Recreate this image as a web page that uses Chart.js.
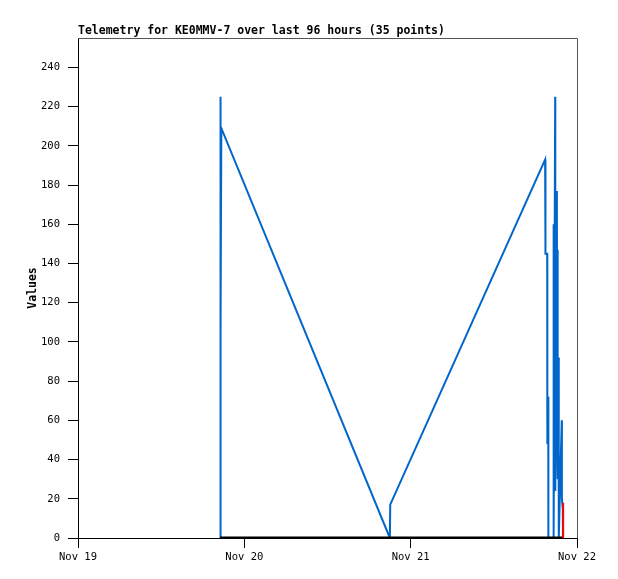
<!DOCTYPE html>
<html>
<head>
<meta charset="utf-8">
<script src="https://cdn.jsdelivr.net/npm/chart.js@4.4.1/dist/chart.umd.min.js"></script>
<style>
  html, body { margin: 0; padding: 0; background: #fff; }
  #wrap { width: 618px; height: 579px; }
</style>
</head>
<body>
<div id="wrap"><canvas id="telemetryChart" width="618" height="579"></canvas></div>
<script>
// Chart text
const chartTitle = 'Telemetry for KE0MMV-7 over last 96 hours (35 points)';
const yAxisTitle = 'Values';

// X axis: hours since Nov 19 00:00
const dayTicks = [0, 24, 48, 72];
const dayLabels = ['Nov 19', 'Nov 20', 'Nov 21', 'Nov 22'];

// Main (blue) channel
const blueHours = [20.50, 20.52, 20.56, 20.62, 20.68, 45.00, 45.05,
                   67.40, 67.45, 67.70, 67.72, 67.85, 67.87, 68.60, 68.62, 68.64,
                   68.85, 68.87, 69.10, 69.12, 69.20, 69.22, 69.35, 69.37,
                   69.80, 69.82, 69.95, 69.97];
const blueValues = [0, 225, 112, 104, 209, 0, 17,
                    193, 145, 145, 48, 72, 0, 0, 160, 0,
                    225, 24, 177, 64, 147, 30, 92, 0,
                    60, 20, 15, 0];

// Zero (black) channel
const blackHours = [20.50, 45.00, 69.99];
const blackValues = [0, 0, 0];

// Last (red) channel
const redHours = [69.99, 70.00];
const redValues = [0, 18];

function toPoints(xs, ys) {
    return xs.map((x, i) => ({ x: x, y: ys[i] }));
}

// Draw title, y-axis title and the grey frame on the top/right
const decorations = {
    id: 'decorations',
    afterDraw(chart) {
        const ctx = chart.ctx;
        const area = chart.chartArea;
        ctx.save();
        ctx.strokeStyle = '#555';
        ctx.lineWidth = 1;
        ctx.beginPath();
        ctx.moveTo(area.left, area.top + 0.5);
        ctx.lineTo(area.right + 0.5, area.top + 0.5);
        ctx.lineTo(area.right + 0.5, area.bottom);
        ctx.stroke();

        ctx.fillStyle = '#000';
        ctx.font = 'bold 11.5px "DejaVu Sans Mono"';
        ctx.textBaseline = 'alphabetic';
        ctx.textAlign = 'left';
        ctx.fillText(chartTitle, area.left, area.top - 4);

        ctx.translate(36, (area.top + area.bottom) / 2);
        ctx.rotate(-Math.PI / 2);
        ctx.textAlign = 'center';
        ctx.fillText(yAxisTitle, 0, 0);
        ctx.restore();
    }
};

const ctx = document.getElementById('telemetryChart').getContext('2d');
const chart = new Chart(ctx, {
    type: 'line',
    data: {
        datasets: [
            {
                data: toPoints(redHours, redValues),
                borderColor: '#ff0000',
                borderWidth: 2,
                pointRadius: 0,
                tension: 0
            },
            {
                data: toPoints(blackHours, blackValues),
                borderColor: '#000000',
                borderWidth: 3,
                pointRadius: 0,
                tension: 0
            },
            {
                data: toPoints(blueHours, blueValues),
                borderColor: '#0066cc',
                borderWidth: 2,
                pointRadius: 0,
                tension: 0
            }
        ]
    },
    options: {
        responsive: false,
        animation: false,
        layout: { padding: { top: 38, right: 41, left: 0, bottom: 0 } },
        plugins: {
            legend: { display: false },
            tooltip: { enabled: false },
            title: { display: false }
        },
        scales: {
            x: {
                type: 'linear',
                min: 0,
                max: 72,
                afterBuildTicks: function(scale) {
                    scale.ticks = dayTicks.map(v => ({ value: v }));
                },
                afterFit: function(scale) { scale.height = 41; },
                ticks: {
                    autoSkip: false,
                    maxRotation: 0,
                    padding: 3,
                    color: '#000',
                    font: { family: 'DejaVu Sans Mono', size: 10.5 },
                    callback: function(value) {
                        const i = dayTicks.indexOf(value);
                        return i >= 0 ? dayLabels[i] : '';
                    }
                },
                grid: {
                    drawOnChartArea: false,
                    drawTicks: true,
                    tickLength: 10,
                    color: '#000'
                },
                border: { display: true, color: '#000', width: 1 }
            },
            y: {
                type: 'linear',
                min: 0,
                max: 255,
                afterBuildTicks: function(scale) {
                    scale.ticks = scale.ticks.filter(t => t.value % 20 === 0);
                },
                afterFit: function(scale) { scale.width = 78; },
                ticks: {
                    stepSize: 20,
                    padding: 8,
                    color: '#000',
                    font: { family: 'DejaVu Sans Mono', size: 10.5 }
                },
                grid: {
                    drawOnChartArea: false,
                    drawTicks: true,
                    tickLength: 10,
                    color: '#000'
                },
                border: { display: true, color: '#000', width: 1 }
            }
        }
    },
    plugins: [decorations]
});
</script>
</body>
</html>
